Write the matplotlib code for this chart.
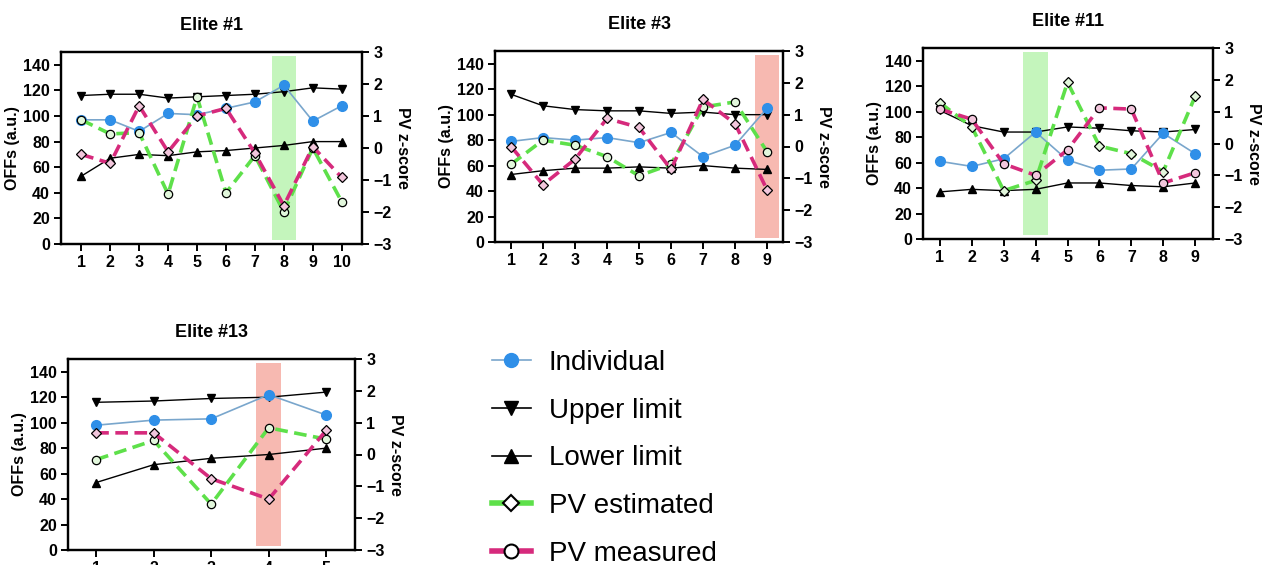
import numpy as np
import matplotlib.pyplot as plt
from matplotlib.lines import Line2D

plt.rcParams['font.family'] = ['Liberation Sans', 'DejaVu Sans']

# ---- data ----
titles = ["Elite #1", "Elite #3", "Elite #11", "Elite #13"]

indiv_1 = [97, 97, 88, 102, 101, 106, 111, 124, 96, 108]
upper_1 = [116, 117, 117, 114, 115, 116, 117, 119, 122, 121]
lower_1 = [53, 67, 70, 69, 72, 73, 75, 77, 80, 80]
est_1 = [0.88, 0.44, 0.48, -1.44, 1.6, -1.4, -0.24, -2.0, 0.0, -1.68]
meas_1 = [-0.2, -0.48, 1.32, -0.12, 1.0, 1.24, -0.16, -1.8, 0.04, -0.92]

indiv_3 = [79, 82, 80, 82, 78, 86, 67, 76, 105]
upper_3 = [116, 107, 104, 103, 103, 101, 102, 100, 100]
lower_3 = [53, 56, 58, 58, 59, 58, 60, 58, 57]
est_3 = [-0.56, 0.2, 0.04, -0.32, -0.92, -0.56, 1.24, 1.4, -0.16]
meas_3 = [0.0, -1.2, -0.4, 0.88, 0.6, -0.72, 1.48, 0.72, -1.36]

indiv_11 = [61, 57, 63, 84, 62, 54, 55, 83, 67]
upper_11 = [101, 89, 84, 84, 88, 87, 85, 84, 86]
lower_11 = [37, 39, 38, 39, 44, 44, 42, 41, 44]
est_11 = [1.28, 0.52, -1.48, -1.16, 1.92, -0.08, -0.32, -0.88, 1.48]
meas_11 = [1.08, 0.76, -0.64, -1.0, -0.2, 1.12, 1.08, -1.24, -0.92]

indiv_13 = [98, 102, 103, 122, 106]
upper_13 = [116, 117, 119, 120, 124]
lower_13 = [53, 67, 72, 75, 80]
est_13 = [-0.16, 0.44, -1.56, 0.84, 0.48]
meas_13 = [0.68, 0.68, -0.76, -1.4, 0.76]

# highlighted session per panel (x position) and its colour
flag_x = [8, 9, 4, 4]
flag_kind = ["green", "red", "green", "red"]

BLUE = "#2f8fe8"
BLUE_LINE = "#79a6cc"
GREEN = "#5ee04a"
MAGENTA = "#d62a7c"
SPAN = {"green": "#c4f5bc", "red": "#f7b9b1"}

panels = [
    (titles[0], indiv_1, upper_1, lower_1, est_1, meas_1),
    (titles[1], indiv_3, upper_3, lower_3, est_3, meas_3),
    (titles[2], indiv_11, upper_11, lower_11, est_11, meas_11),
    (titles[3], indiv_13, upper_13, lower_13, est_13, meas_13),
]

# axes boxes in pixels (left, right, top, bottom)
boxes = [(61, 362, 52, 244), (495, 783, 51, 242), (923, 1213, 48, 239), (68, 355, 359, 550)]
xlims = [(0.3, 10.7), (0.5, 9.5), (0.47, 9.56), (0.51, 5.5)]
# which marker sits on which PV line (varies by panel in the original)
est_marker = ["o", "o", "D", "o"]
meas_marker = ["D", "D", "o", "D"]
span_w = [0.42, 0.38, 0.38, 0.22]

W, H = 1268, 565
fig = plt.figure(figsize=(W / 100, H / 100), dpi=100)

for i, (title, ind, up, lo, est, meas) in enumerate(panels):
    l, r, t, b = boxes[i]
    ax = fig.add_axes([l / W, 1 - b / H, (r - l) / W, (b - t) / H])
    x = np.arange(1, len(ind) + 1)

    ax.axvspan(flag_x[i] - span_w[i], flag_x[i] + span_w[i], ymin=0.02, ymax=0.98,
               color=SPAN[flag_kind[i]], lw=0, zorder=0)

    ax.plot(x, up, color="black", lw=1, marker="v", ms=6, zorder=3)
    ax.plot(x, lo, color="black", lw=1, marker="^", ms=6, zorder=3)
    ax.plot(x, ind, color=BLUE_LINE, lw=1.2, marker="o", ms=7,
            mfc=BLUE, mec=BLUE, zorder=4)

    ax.set_xlim(*xlims[i])
    ax.set_ylim(0, 150)
    ax.set_yticks(np.arange(0, 141, 20))
    ax.set_xticks(x)
    ax.set_ylabel("OFFs (a.u.)", fontsize=11.5, fontweight="bold", labelpad=2)
    ax.set_title(title, fontsize=13, fontweight="bold", pad=16)

    ax2 = ax.twinx()
    ax2.plot(x, est, color=GREEN, lw=2.6, ls=(0, (3.5, 1.8)), marker=est_marker[i],
             ms=6 if est_marker[i] == "o" else 5, mfc="#e2f7dc", mec="black", mew=0.9, zorder=5)
    ax2.plot(x, meas, color=MAGENTA, lw=2.6, ls=(0, (3.5, 1.8)), marker=meas_marker[i],
             ms=6 if meas_marker[i] == "o" else 5, mfc="#f2c6dc", mec="black", mew=0.9, zorder=5)
    ax2.set_ylim(-3, 3)
    ax2.set_yticks(np.arange(-3, 4, 1))
    ax2.set_ylabel("PV z-score", fontsize=11.5, fontweight="bold", rotation=270, labelpad=13)

    for a in (ax, ax2):
        for s in a.spines.values():
            s.set_linewidth(1.6)
        a.tick_params(width=1.4, length=5, labelsize=11.5, pad=3)
        for lab in a.get_xticklabels() + a.get_yticklabels():
            lab.set_fontweight("bold")

handles = [
    Line2D([], [], color=BLUE_LINE, lw=1.2, marker="o", ms=10, mfc=BLUE, mec=BLUE),
    Line2D([], [], color="black", lw=1.2, marker="v", ms=10),
    Line2D([], [], color="black", lw=1.2, marker="^", ms=10),
    Line2D([], [], color=GREEN, lw=4, marker="D", ms=8, mfc="white", mec="black", mew=1.5),
    Line2D([], [], color=MAGENTA, lw=4, marker="o", ms=10, mfc="white", mec="black", mew=1.5),
]
labels = ["Individual", "Upper limit", "Lower limit", "PV estimated", "PV measured"]
fig.legend(handles, labels, loc="upper left", bbox_to_anchor=(492 / W, 1 - 350 / H),
           frameon=False, fontsize=20, handlelength=1.4, handletextpad=0.65,
           labelspacing=0.78, borderpad=0, borderaxespad=0)

fig.savefig("out.png", dpi=100)
